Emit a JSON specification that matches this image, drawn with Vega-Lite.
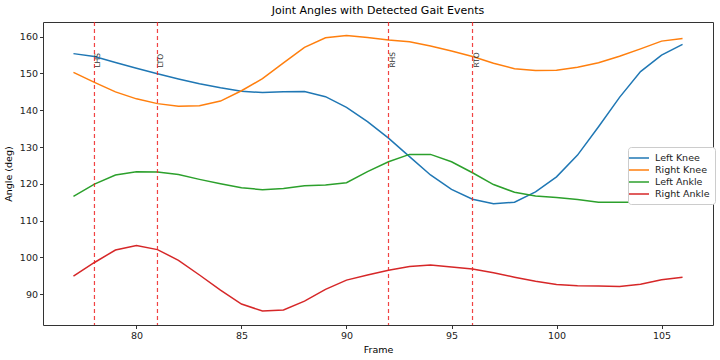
{
  "$schema": "https://vega.github.io/schema/vega-lite/v6.json",
  "width": 670,
  "height": 303,
  "autosize": "none",
  "padding": {"left": 43, "top": 22, "right": 7, "bottom": 35},
  "background": "white",
  "title": {"text": "Joint Angles with Detected Gait Events", "fontSize": 11, "fontWeight": "normal", "font": "DejaVu Sans", "color": "#000", "anchor": "middle", "offset": 5},
  "config": {
    "font": "DejaVu Sans",
    "view": {"stroke": "#333", "strokeWidth": 1},
    "axis": {"domain": false, "grid": false, "tickColor": "#333", "tickSize": 3.5, "labelFontSize": 9.5, "labelColor": "#222", "titleFontSize": 9.5, "titleFontWeight": "normal", "titleColor": "#000", "labelPadding": 2}
  },
  "datasets": {
    "angles": [
      {"frame": 77, "Left Knee": 155.4, "Right Knee": 150.3, "Left Ankle": 116.6, "Right Ankle": 94.9},
      {"frame": 78, "Left Knee": 154.6, "Right Knee": 147.6, "Left Ankle": 119.9, "Right Ankle": 98.6},
      {"frame": 79, "Left Knee": 153.0, "Right Knee": 145.0, "Left Ankle": 122.4, "Right Ankle": 102.0},
      {"frame": 80, "Left Knee": 151.4, "Right Knee": 143.1, "Left Ankle": 123.3, "Right Ankle": 103.2},
      {"frame": 81, "Left Knee": 149.9, "Right Knee": 141.8, "Left Ankle": 123.2, "Right Ankle": 102.1},
      {"frame": 82, "Left Knee": 148.5, "Right Knee": 141.1, "Left Ankle": 122.5, "Right Ankle": 99.2},
      {"frame": 83, "Left Knee": 147.2, "Right Knee": 141.2, "Left Ankle": 121.2, "Right Ankle": 95.2},
      {"frame": 84, "Left Knee": 146.1, "Right Knee": 142.5, "Left Ankle": 120.0, "Right Ankle": 91.1},
      {"frame": 85, "Left Knee": 145.2, "Right Knee": 145.3, "Left Ankle": 118.9, "Right Ankle": 87.3},
      {"frame": 86, "Left Knee": 144.8, "Right Knee": 148.6, "Left Ankle": 118.4, "Right Ankle": 85.4},
      {"frame": 87, "Left Knee": 145.0, "Right Knee": 152.9, "Left Ankle": 118.7, "Right Ankle": 85.7},
      {"frame": 88, "Left Knee": 145.1, "Right Knee": 157.1, "Left Ankle": 119.5, "Right Ankle": 88.1},
      {"frame": 89, "Left Knee": 143.7, "Right Knee": 159.7, "Left Ankle": 119.7, "Right Ankle": 91.3},
      {"frame": 90, "Left Knee": 140.8, "Right Knee": 160.3, "Left Ankle": 120.3, "Right Ankle": 93.8},
      {"frame": 91, "Left Knee": 136.9, "Right Knee": 159.8, "Left Ankle": 123.3, "Right Ankle": 95.2},
      {"frame": 92, "Left Knee": 132.4, "Right Knee": 159.1, "Left Ankle": 126.0, "Right Ankle": 96.5},
      {"frame": 93, "Left Knee": 127.4, "Right Knee": 158.6, "Left Ankle": 128.0, "Right Ankle": 97.5},
      {"frame": 94, "Left Knee": 122.4, "Right Knee": 157.5, "Left Ankle": 128.0, "Right Ankle": 97.9},
      {"frame": 95, "Left Knee": 118.5, "Right Knee": 156.1, "Left Ankle": 126.0, "Right Ankle": 97.4},
      {"frame": 96, "Left Knee": 115.8, "Right Knee": 154.6, "Left Ankle": 123.0, "Right Ankle": 96.8},
      {"frame": 97, "Left Knee": 114.6, "Right Knee": 152.8, "Left Ankle": 119.8, "Right Ankle": 95.8},
      {"frame": 98, "Left Knee": 115.0, "Right Knee": 151.3, "Left Ankle": 117.7, "Right Ankle": 94.6},
      {"frame": 99, "Left Knee": 117.8, "Right Knee": 150.8, "Left Ankle": 116.7, "Right Ankle": 93.5},
      {"frame": 100, "Left Knee": 121.9, "Right Knee": 150.9, "Left Ankle": 116.3, "Right Ankle": 92.6},
      {"frame": 101, "Left Knee": 127.8, "Right Knee": 151.7, "Left Ankle": 115.7, "Right Ankle": 92.3},
      {"frame": 102, "Left Knee": 135.5, "Right Knee": 152.9, "Left Ankle": 115.0, "Right Ankle": 92.2},
      {"frame": 103, "Left Knee": 143.5, "Right Knee": 154.7, "Left Ankle": 115.0, "Right Ankle": 92.1},
      {"frame": 104, "Left Knee": 150.5, "Right Knee": 156.7, "Left Ankle": 115.0, "Right Ankle": 92.7},
      {"frame": 105, "Left Knee": 155.0, "Right Knee": 158.8, "Left Ankle": 114.8, "Right Ankle": 93.9},
      {"frame": 106, "Left Knee": 157.9, "Right Knee": 159.5, "Left Ankle": 115.4, "Right Ankle": 94.6}
    ],
    "events": [
      {"frame": 78, "label": "LHS"},
      {"frame": 81, "label": "LTO"},
      {"frame": 92, "label": "RHS"},
      {"frame": 96, "label": "RTO"}
    ]
  },
  "layer": [
    {
      "data": {"name": "angles"},
      "transform": [{"fold": ["Left Knee", "Right Knee", "Left Ankle", "Right Ankle"], "as": ["joint", "angle"]}],
      "mark": {"type": "line", "strokeWidth": 1.5},
      "encoding": {
        "x": {"field": "frame", "type": "quantitative", "scale": {"domain": [75.55, 107.45], "nice": false, "zero": false}, "axis": {"values": [80, 85, 90, 95, 100, 105], "title": "Frame", "titlePadding": 4}},
        "y": {"field": "angle", "type": "quantitative", "scale": {"domain": [81.6, 164.0], "nice": false, "zero": false}, "axis": {"values": [90, 100, 110, 120, 130, 140, 150, 160], "title": "Angle (deg)", "titlePadding": 6}},
        "color": {"field": "joint", "type": "nominal", "scale": {"domain": ["Left Knee", "Right Knee", "Left Ankle", "Right Ankle"], "range": ["#1f77b4", "#ff7f0e", "#2ca02c", "#d62728"]},
          "legend": {"title": null, "orient": "none", "legendX": 585, "legendY": 125, "symbolType": "M-2,0H2", "symbolSize": 100, "symbolStrokeWidth": 1.5, "labelFontSize": 9.5, "labelColor": "#222", "labelOffset": 10, "rowPadding": 1, "padding": 5, "fillColor": "white", "strokeColor": "#ccc", "cornerRadius": 3}}
      }
    },
    {
      "data": {"name": "events"},
      "mark": {"type": "rule", "color": "#ee2222", "strokeDash": [4, 3], "strokeWidth": 1.2, "opacity": 0.85},
      "encoding": {"x": {"field": "frame", "type": "quantitative"}}
    },
    {
      "data": {"name": "events"},
      "mark": {"type": "text", "angle": 270, "align": "left", "baseline": "top", "fontSize": 7.5, "color": "#333"},
      "encoding": {
        "x": {"field": "frame", "type": "quantitative"},
        "y": {"datum": 151.6},
        "text": {"field": "label"}
      }
    }
  ]
}
